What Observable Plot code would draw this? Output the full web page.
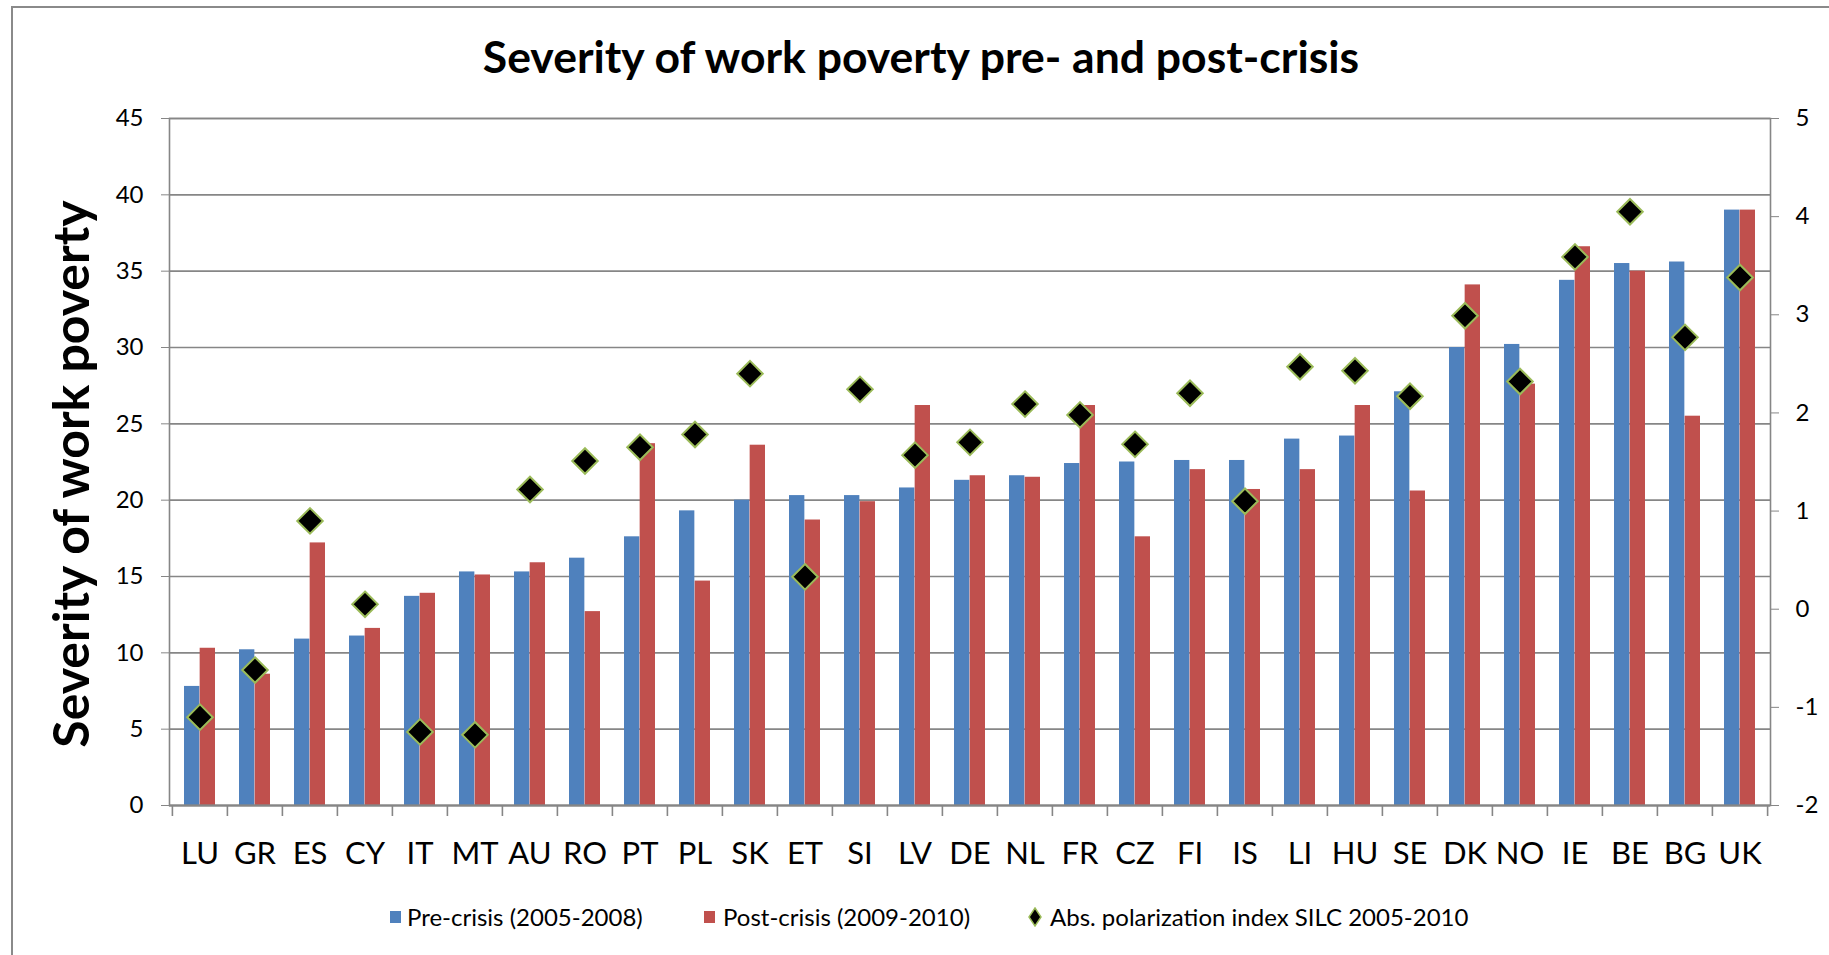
<!DOCTYPE html>
<html>
<head>
<meta charset="utf-8">
<script src="https://cdn.jsdelivr.net/npm/d3@7"></script>
<script src="https://cdn.jsdelivr.net/npm/@observablehq/plot@0.6"></script>
<style>
  html, body { margin: 0; padding: 0; background: #fff; overflow: hidden; }
  #wrap { position: relative; width: 1829px; height: 955px; font-family: Lato, "Open Sans", sans-serif; }
  #border { position: absolute; left: 11px; top: 6px; width: 1840px; height: 970px; border: 2px solid #8a8a8a; box-sizing: border-box; }
  #title { position: absolute; top: 30px; left: 0; width: 1842px; text-align: center; font-weight: 700; font-size: 44.5px; line-height: 52px; color: #000; }
  #ylabel { position: absolute; left: 70px; top: 474px; transform: translate(-50%, -50%) rotate(-90deg); white-space: nowrap; font-weight: 700; font-size: 50px; color: #000; }
  #chart { position: absolute; left: 0; top: 0; }
  .leg { position: absolute; top: 902px; font-size: 24px; line-height: 29px; white-space: nowrap; color: #000; }
  .sw { position: absolute; top: 911px; width: 11px; height: 12px; }
</style>
</head>
<body>
<div id="wrap">
  <div id="border"></div>
  <div id="chart"></div>
  <div id="title">Severity of work poverty pre- and post-crisis</div>
  <div id="ylabel">Severity of work poverty</div>
  <div class="sw" style="left:390px;background:#4F81BD"></div>
  <div class="leg" style="left:407px">Pre-crisis (2005-2008)</div>
  <div class="sw" style="left:704px;background:#C0504D"></div>
  <div class="leg" style="left:723px">Post-crisis (2009-2010)</div>
  <svg style="position:absolute;left:1028px;top:907px" width="14" height="20"><path d="M7,1 L13,10 L7,19 L1,10 Z" fill="#000" stroke="#9BBB59" stroke-width="1.5"/></svg>
  <div class="leg" style="left:1050px">Abs. polarization index SILC 2005-2010</div>
</div>
<script>
const countries = ["LU","GR","ES","CY","IT","MT","AU","RO","PT","PL","SK","ET","SI","LV","DE","NL","FR","CZ","FI","IS","LI","HU","SE","DK","NO","IE","BE","BG","UK"];
const preCrisis = [7.8,10.2,10.9,11.1,13.7,15.3,15.3,16.2,17.6,19.3,20.0,20.3,20.3,20.8,21.3,21.6,22.4,22.5,22.6,22.6,24.0,24.2,27.1,30.0,30.2,34.4,35.5,35.6,39.0];
const postCrisis = [10.3,8.6,17.2,11.6,13.9,15.1,15.9,12.7,23.7,14.7,23.6,18.7,19.9,26.2,21.6,21.5,26.2,17.6,22.0,20.7,22.0,26.2,20.6,34.1,27.6,36.6,35.0,25.5,39.0];
const polarization = [-1.10,-0.62,0.90,0.05,-1.25,-1.28,1.22,1.51,1.65,1.78,2.40,0.33,2.24,1.57,1.70,2.09,1.98,1.68,2.20,1.10,2.47,2.43,2.17,2.99,2.32,3.59,4.05,2.77,3.38];
const leftTicks = [0,5,10,15,20,25,30,35,40,45];
const rightTicks = [-2,-1,0,1,2,3,4,5];

// secondary axis domain [-2, 5] mapped onto primary [0, 45]
const leftMax = 45, rMin = -2, rMax = 5;
const toLeft = v => (v - rMin) * leftMax / (rMax - rMin);
const fromLeft = v => v * (rMax - rMin) / leftMax + rMin;

const rows = countries.map((c, i) => ({country: c, pre: preCrisis[i], post: postCrisis[i], pol: toLeft(polarization[i])}));

const W = 1829, H = 890;
const mL = 169, mR = 59, mT = 118, mB = 85;
const pad = 0.433;
const step = (W - mL - mR) / countries.length;
const bw = step * (1 - pad);
const gray = "#868686";

const chart = Plot.plot({
  width: W, height: H,
  marginLeft: mL, marginRight: mR, marginTop: mT, marginBottom: mB,
  style: {background: "transparent", fontFamily: "Lato, 'Open Sans', sans-serif", fontSize: "24px", color: "#000"},
  x: {domain: countries, paddingInner: pad, paddingOuter: pad / 2, label: null},
  y: {domain: [0, leftMax], label: null},
  marks: [
    Plot.gridY(leftTicks, {stroke: gray, strokeOpacity: 1, strokeWidth: 1.6}),
    Plot.barY(rows, {x: "country", y: "pre", fill: "#4F81BD", insetRight: bw / 2}),
    Plot.barY(rows, {x: "country", y: "post", fill: "#C0504D", insetLeft: bw / 2}),
    Plot.frame({stroke: gray, strokeWidth: 1.6}),
    Plot.ruleY([0], {stroke: gray, strokeWidth: 2.2}),
    Plot.dot(rows, {x: "country", y: "pol", symbol: "diamond2", r: 11.5, fill: "#000", stroke: "#9BBB59", strokeWidth: 2}),
    Plot.axisY({ticks: leftTicks, anchor: "left", tickSize: 8, tickPadding: 18, stroke: gray, fill: "#000", fontSize: 24, label: null}),
    Plot.axisY({ticks: rightTicks.map(toLeft), anchor: "right", tickSize: 8, tickPadding: 17, stroke: gray, fill: "#000", fontSize: 24, label: null,
      tickFormat: d => String(Math.round(fromLeft(d)))}),
    Plot.axisX({tickSize: 0, tickPadding: 36, fill: "#000", fontSize: 31, label: null}),
    Plot.axisX({text: null, tickSize: 11, dx: -step / 2, stroke: gray, strokeWidth: 1.6, label: null}),
    Plot.axisX({ticks: [countries[countries.length - 1]], text: null, tickSize: 11, dx: step / 2, stroke: gray, strokeWidth: 1.6, label: null})
  ]
});
document.getElementById("chart").appendChild(chart);
</script>
</body>
</html>
